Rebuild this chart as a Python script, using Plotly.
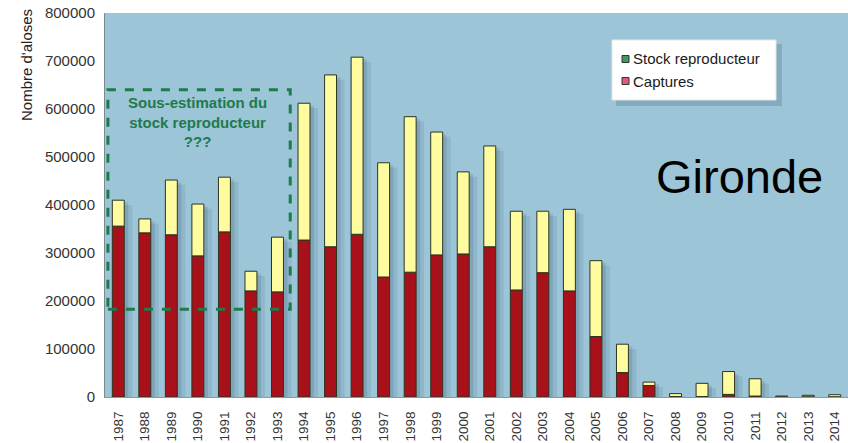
import plotly.graph_objects as go

years = [str(y) for y in range(1987, 2015)]
captures = [356000, 342000, 338000, 294000, 344000, 221000, 219000,
            327000, 313000, 339000, 250000, 260000, 296000, 298000, 313000,
            223000, 259000, 221000, 126000, 51000, 24000, 1000, 1000, 5500,
            2000, 500, 500, 500]
stock = [54000, 29000, 114000, 108000, 114000, 41000, 114000,
         285000, 358000, 369000, 238000, 324000, 256000, 171000, 210000,
         164000, 128000, 170000, 158000, 59000, 7000, 6000, 27500, 47500,
         36000, 1500, 3000, 4300]
y_ticks = [0, 100000, 200000, 300000, 400000, 500000, 600000, 700000, 800000]
totals = [c + s for c, s in zip(captures, stock)]

RED = "#a8101a"
YELLOW = "#fffca0"
OUTLINE = "#2d3320"
BG = "#9cc5d8"
GREEN = "#1f7a4c"
FONT = "Liberation Sans, Arial, sans-serif"

BW = 0.45  # bar width in category units

fig = go.Figure()
# soft drop shadows
fig.add_trace(go.Bar(x=years, y=[max(t - 10000, 0) for t in totals], width=BW + 0.2, offset=-BW / 2 + 0.1,
                     marker=dict(color="rgba(30,60,80,0.10)", line=dict(width=0)),
                     showlegend=False, hoverinfo="skip"))
fig.add_trace(go.Bar(x=years, y=[max(t - 5000, 0) for t in totals], width=BW + 0.1, offset=-BW / 2 + 0.05,
                     marker=dict(color="rgba(30,60,80,0.14)", line=dict(width=0)),
                     showlegend=False, hoverinfo="skip"))
fig.add_trace(go.Bar(x=years, y=captures, width=BW, offset=-BW / 2,
                     marker=dict(color=RED, line=dict(color=OUTLINE, width=1)),
                     showlegend=False, name="Captures"))
fig.add_trace(go.Bar(x=years, y=stock, base=captures, width=BW, offset=-BW / 2,
                     marker=dict(color=YELLOW, line=dict(color=OUTLINE, width=1)),
                     showlegend=False, name="Stock reproducteur"))

# dashed box
fig.add_shape(type="rect", xref="x", yref="y", x0=-0.39, x1=6.48, y0=183000, y1=640000,
              line=dict(color=GREEN, width=3, dash="dash"), layer="above")
fig.add_annotation(x=3.0, y=573000, xref="x", yref="y",
                   text="<b>Sous-estimation du<br>stock reproducteur<br>???</b>",
                   showarrow=False, font=dict(family=FONT, size=15, color=GREEN),
                   align="center", xanchor="center", yanchor="middle")

# legend box (manual, paper coords relative to plot area 105..848 x 13..397)
def px(xp):
    return (xp - 105) / 743.0

def py(yp):
    return (397 - yp) / 384.0

fig.add_shape(type="rect", xref="paper", yref="paper", x0=px(616), x1=px(782), y0=py(106), y1=py(44),
              fillcolor="rgba(30,60,80,0.18)", line=dict(width=0), layer="above")
fig.add_shape(type="rect", xref="paper", yref="paper", x0=px(612), x1=px(776), y0=py(100), y1=py(40),
              fillcolor="white", line=dict(color="#e4e4e4", width=1), layer="above")
legend_items = [("Stock reproducteur", "#3f9a5e", 59), ("Captures", "#e05a7a", 81)]
for label, col, ycen in legend_items:
    fig.add_shape(type="rect", xref="paper", yref="paper", x0=px(622), x1=px(629),
                  y0=py(ycen + 3.5), y1=py(ycen - 3.5), fillcolor=col,
                  line=dict(color="#333333", width=1), layer="above")
    fig.add_annotation(x=px(631), y=py(ycen), xref="paper", yref="paper", text=label,
                       showarrow=False, xanchor="left", yanchor="middle",
                       font=dict(family=FONT, size=15, color="#1a1a1a"))

fig.add_annotation(x=px(739), y=py(176), xref="paper", yref="paper", text="Gironde", showarrow=False,
                   xanchor="center", yanchor="middle",
                   font=dict(family=FONT, size=47, color="#000000"))
fig.add_annotation(x=px(27), y=py(65), xref="paper", yref="paper", text="Nombre d'aloses", showarrow=False,
                   textangle=-90, xanchor="center", yanchor="middle",
                   font=dict(family=FONT, size=15, color="#222222"))

fig.update_layout(
    width=848, height=443,
    margin=dict(l=105, r=0, t=13, b=46, autoexpand=False),
    paper_bgcolor="white", plot_bgcolor=BG,
    barmode="overlay",
    showlegend=False,
    font=dict(family=FONT, color="#333333"),
    xaxis=dict(type="category", categoryorder="array", categoryarray=years, range=[-0.5, 27.5],
               tickangle=-90, tickfont=dict(size=13.5, color="#333333"), showgrid=False,
               showline=True, linecolor="#8a9aa0", ticks="outside", ticklen=8,
               tickcolor="rgba(0,0,0,0)", automargin=False),
    yaxis=dict(range=[0, 800000], tickvals=y_ticks, ticktext=[str(v) for v in y_ticks],
               tickfont=dict(size=15, color="#333333"), showgrid=False, zeroline=False,
               showline=True, linecolor="#7a8a90", mirror=True, ticks="outside", ticklen=6,
               tickcolor="rgba(0,0,0,0)", automargin=False),
)
fig.write_html("out.html", post_script="document.body.style.margin='0px';",
               config={"displayModeBar": False})
